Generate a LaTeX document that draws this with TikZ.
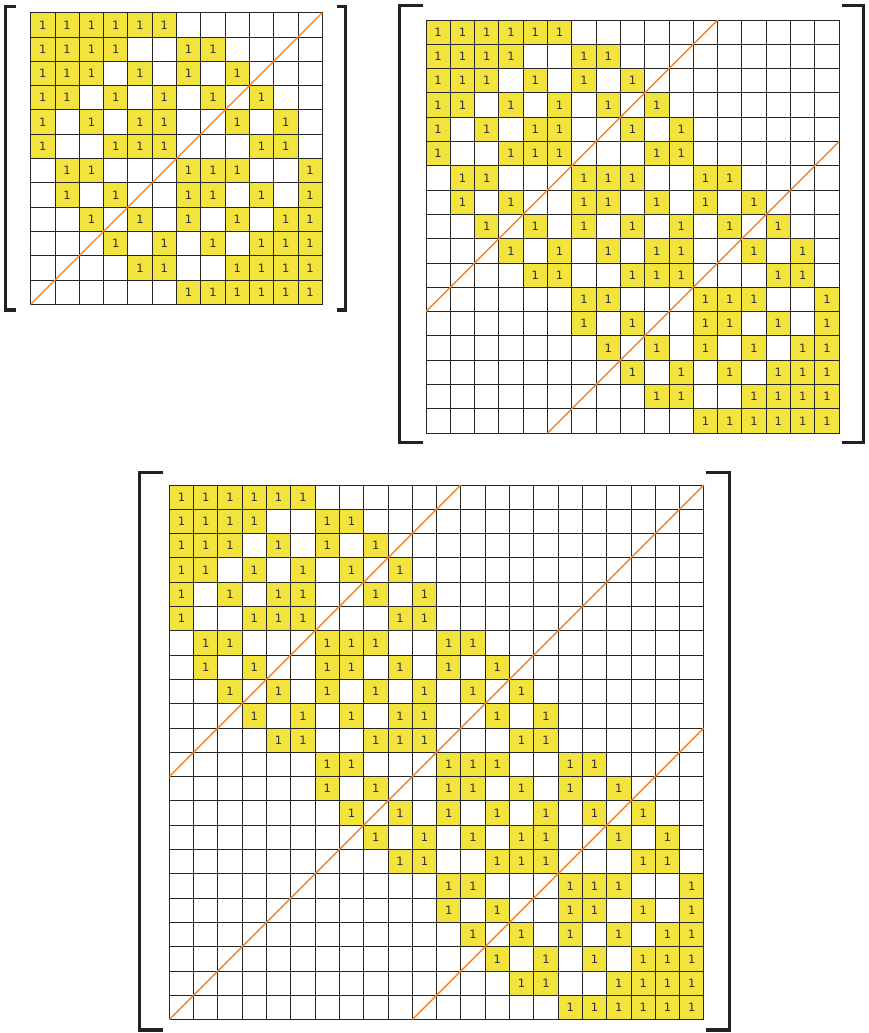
\documentclass[tikz,border=0pt]{standalone}
\usepackage{fontspec}
\newfontfamily\cellfont{DejaVu Sans}
\definecolor{cellyellow}{HTML}{F2E33D}
\definecolor{diagorange}{HTML}{F5841F}
\definecolor{bracketgray}{HTML}{222222}
\definecolor{numgray}{HTML}{303030}
\tikzset{
  onecell/.style={fill=cellyellow, draw=none, minimum size=24.3pt, inner sep=0pt, text=numgray, font=\cellfont\fontsize{11.5}{12}\selectfont},
  gridline/.style={line width=0.9pt, draw=black!85, line cap=rect},
  diagline/.style={draw=diagorange, line width=1.4pt},
  bracketline/.style={draw=bracketgray, line width=3.3pt, line join=miter},
}
\newcommand\mydrawmatrix[5]{%
  \foreach \r/\cols in {#5} {
    \foreach \c in \cols {
      \node[onecell] (#1-\r-\c) at ({#2+24.3*(\c+0.5)},{#3+24.3*(\r+0.5)}) {1};
    }
  }
  \foreach \i in {0,...,#4} {
    \draw[gridline] ({#2+24.3*\i},#3) -- ({#2+24.3*\i},{#3+24.3*#4});
    \draw[gridline] (#2,{#3+24.3*\i}) -- ({#2+24.3*#4},{#3+24.3*\i});
  }
}
\begin{document}
\begin{tikzpicture}[x=1pt,y=-1pt]
\useasboundingbox (0,0) rectangle (868,1033);

% ---------- Matrix 1 (12 x 12)
\mydrawmatrix{ma}{30.7}{12.7}{12}{
0/{0,1,2,3,4,5},
1/{0,1,2,3,6,7},
2/{0,1,2,4,6,8},
3/{0,1,3,5,7,9},
4/{0,2,4,5,8,10},
5/{0,3,4,5,9,10},
6/{1,2,6,7,8,11},
7/{1,3,6,7,9,11},
8/{2,4,6,8,10,11},
9/{3,5,7,9,10,11},
10/{4,5,8,9,10,11},
11/{6,7,8,9,10,11}}
\coordinate (ma-d1s) at (30.7,{12.7+24.3*12});
\coordinate (ma-d1e) at ({30.7+24.3*12},12.7);
\draw[diagline] (ma-d1s) -- (ma-d1e);
\draw[bracketline] (16,6.65) -- (5.65,6.65) -- (5.65,309.9) -- (16,309.9);
\draw[bracketline] (337.3,6.65) -- (345.65,6.65) -- (345.65,309.9) -- (337.3,309.9);

% ---------- Matrix 2 (17 x 17)
\mydrawmatrix{mb}{426}{20}{17}{
0/{0,1,2,3,4,5},
1/{0,1,2,3,6,7},
2/{0,1,2,4,6,8},
3/{0,1,3,5,7,9},
4/{0,2,4,5,8,10},
5/{0,3,4,5,9,10},
6/{1,2,6,7,8,11,12},
7/{1,3,6,7,9,11,13},
8/{2,4,6,8,10,12,14},
9/{3,5,7,9,10,13,15},
10/{4,5,8,9,10,14,15},
11/{6,7,11,12,13,16},
12/{6,8,11,12,14,16},
13/{7,9,11,13,15,16},
14/{8,10,12,14,15,16},
15/{9,10,13,14,15,16},
16/{11,12,13,14,15,16}}
\coordinate (mb-d1s) at (426,{20+24.3*12});
\coordinate (mb-d1e) at ({426+24.3*12},20);
\coordinate (mb-d2s) at ({426+24.3*5},{20+24.3*17});
\coordinate (mb-d2e) at ({426+24.3*17},{20+24.3*5});
\draw[diagline] (mb-d1s) -- (mb-d1e);
\draw[diagline] (mb-d2s) -- (mb-d2e);
\draw[bracketline] (423.3,5.35) -- (399.65,5.35) -- (399.65,442.35) -- (423.3,442.35);
\draw[bracketline] (841.7,5.35) -- (863.35,5.35) -- (863.35,442.35) -- (841.7,442.35);

% ---------- Matrix 3 (22 x 22)
\mydrawmatrix{mc}{169.3}{485}{22}{
0/{0,1,2,3,4,5},
1/{0,1,2,3,6,7},
2/{0,1,2,4,6,8},
3/{0,1,3,5,7,9},
4/{0,2,4,5,8,10},
5/{0,3,4,5,9,10},
6/{1,2,6,7,8,11,12},
7/{1,3,6,7,9,11,13},
8/{2,4,6,8,10,12,14},
9/{3,5,7,9,10,13,15},
10/{4,5,8,9,10,14,15},
11/{6,7,11,12,13,16,17},
12/{6,8,11,12,14,16,18},
13/{7,9,11,13,15,17,19},
14/{8,10,12,14,15,18,20},
15/{9,10,13,14,15,19,20},
16/{11,12,16,17,18,21},
17/{11,13,16,17,19,21},
18/{12,14,16,18,20,21},
19/{13,15,17,19,20,21},
20/{14,15,18,19,20,21},
21/{16,17,18,19,20,21}}
\coordinate (mc-d1s) at (169.3,{485+24.3*12});
\coordinate (mc-d1e) at ({169.3+24.3*12},485);
\coordinate (mc-d2s) at (169.3,{485+24.3*22});
\coordinate (mc-d2e) at ({169.3+24.3*22},485);
\coordinate (mc-d3s) at ({169.3+24.3*10},{485+24.3*22});
\coordinate (mc-d3e) at ({169.3+24.3*22},{485+24.3*10});
\draw[diagline] (mc-d1s) -- (mc-d1e);
\draw[diagline] (mc-d2s) -- (mc-d2e);
\draw[diagline] (mc-d3s) -- (mc-d3e);
\draw[bracketline] (163.3,472.5) -- (139.65,472.5) -- (139.65,1030) -- (163.3,1030);
\draw[bracketline] (705.7,472.5) -- (729.7,472.5) -- (729.7,1030) -- (705.7,1030);
\end{tikzpicture}
\end{document}
